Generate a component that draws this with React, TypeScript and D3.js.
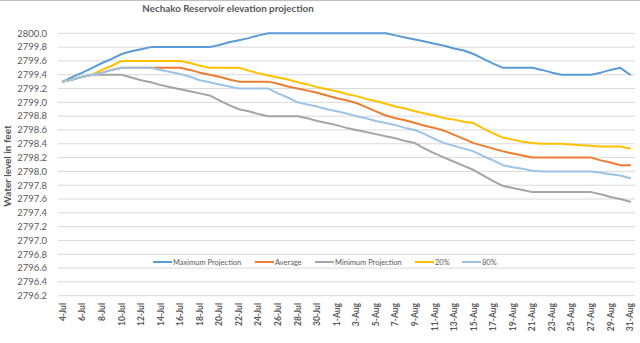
import React from "react";
import * as d3 from "d3";

const categories: string[] = [
  "4-Jul","5-Jul","6-Jul","7-Jul","8-Jul","9-Jul","10-Jul","11-Jul","12-Jul","13-Jul",
  "14-Jul","15-Jul","16-Jul","17-Jul","18-Jul","19-Jul","20-Jul","21-Jul","22-Jul","23-Jul",
  "24-Jul","25-Jul","26-Jul","27-Jul","28-Jul","29-Jul","30-Jul","31-Jul",
  "1-Aug","2-Aug","3-Aug","4-Aug","5-Aug","6-Aug","7-Aug","8-Aug","9-Aug","10-Aug",
  "11-Aug","12-Aug","13-Aug","14-Aug","15-Aug","16-Aug","17-Aug","18-Aug","19-Aug","20-Aug",
  "21-Aug","22-Aug","23-Aug","24-Aug","25-Aug","26-Aug","27-Aug","28-Aug","29-Aug","30-Aug","31-Aug",
];

const maxProjection: number[] = [
  2799.30, 2799.37, 2799.43, 2799.50, 2799.57, 2799.63, 2799.70, 2799.74, 2799.77, 2799.80,
  2799.80, 2799.80, 2799.80, 2799.80, 2799.80, 2799.80, 2799.83, 2799.87, 2799.90, 2799.93,
  2799.97, 2800.00, 2800.00, 2800.00, 2800.00, 2800.00, 2800.00, 2800.00,
  2800.00, 2800.00, 2800.00, 2800.00, 2800.00, 2800.00, 2799.97, 2799.94, 2799.91, 2799.88,
  2799.85, 2799.82, 2799.78, 2799.75, 2799.70, 2799.63, 2799.56, 2799.50, 2799.50, 2799.50,
  2799.50, 2799.47, 2799.43, 2799.40, 2799.40, 2799.40, 2799.40, 2799.43, 2799.47, 2799.50, 2799.40,
];

const average: number[] = [
  2799.30, 2799.33, 2799.37, 2799.40, 2799.43, 2799.47, 2799.50, 2799.50, 2799.50, 2799.50,
  2799.50, 2799.50, 2799.50, 2799.47, 2799.43, 2799.40, 2799.37, 2799.33, 2799.30, 2799.30,
  2799.30, 2799.30, 2799.27, 2799.23, 2799.20, 2799.17, 2799.14, 2799.10,
  2799.06, 2799.03, 2798.99, 2798.93, 2798.87, 2798.81, 2798.77, 2798.74, 2798.70, 2798.66,
  2798.63, 2798.59, 2798.53, 2798.47, 2798.41, 2798.37, 2798.33, 2798.29, 2798.26, 2798.23,
  2798.20, 2798.20, 2798.20, 2798.20, 2798.20, 2798.20, 2798.20, 2798.16, 2798.13, 2798.09, 2798.09,
];

const minProjection: number[] = [
  2799.30, 2799.33, 2799.37, 2799.40, 2799.40, 2799.40, 2799.40, 2799.36, 2799.32, 2799.29,
  2799.25, 2799.22, 2799.19, 2799.16, 2799.13, 2799.10, 2799.03, 2798.96, 2798.90, 2798.87,
  2798.83, 2798.80, 2798.80, 2798.80, 2798.80, 2798.77, 2798.73, 2798.70,
  2798.67, 2798.63, 2798.60, 2798.57, 2798.54, 2798.51, 2798.48, 2798.44, 2798.41, 2798.33,
  2798.26, 2798.20, 2798.14, 2798.08, 2798.02, 2797.94, 2797.86, 2797.79, 2797.76, 2797.73,
  2797.70, 2797.70, 2797.70, 2797.70, 2797.70, 2797.70, 2797.70, 2797.67, 2797.63, 2797.60, 2797.56,
];

const pct20: number[] = [
  2799.30, 2799.33, 2799.37, 2799.40, 2799.47, 2799.53, 2799.60, 2799.60, 2799.60, 2799.60,
  2799.60, 2799.60, 2799.60, 2799.57, 2799.53, 2799.50, 2799.50, 2799.50, 2799.50, 2799.46,
  2799.42, 2799.39, 2799.36, 2799.33, 2799.29, 2799.26, 2799.22, 2799.19,
  2799.16, 2799.12, 2799.09, 2799.05, 2799.02, 2798.98, 2798.94, 2798.91, 2798.87, 2798.84,
  2798.81, 2798.77, 2798.75, 2798.72, 2798.70, 2798.62, 2798.55, 2798.49, 2798.46, 2798.43,
  2798.41, 2798.40, 2798.40, 2798.40, 2798.39, 2798.38, 2798.37, 2798.36, 2798.36, 2798.36, 2798.33,
];

const pct80: number[] = [
  2799.30, 2799.33, 2799.37, 2799.40, 2799.43, 2799.47, 2799.50, 2799.50, 2799.50, 2799.50,
  2799.47, 2799.44, 2799.41, 2799.37, 2799.32, 2799.29, 2799.26, 2799.23, 2799.20, 2799.20,
  2799.20, 2799.20, 2799.13, 2799.07, 2799.00, 2798.97, 2798.94, 2798.90,
  2798.87, 2798.84, 2798.80, 2798.77, 2798.73, 2798.70, 2798.67, 2798.63, 2798.60, 2798.54,
  2798.47, 2798.41, 2798.37, 2798.33, 2798.29, 2798.22, 2798.16, 2798.09, 2798.06, 2798.04,
  2798.01, 2798.00, 2798.00, 2798.00, 2798.00, 2798.00, 2798.00, 2797.98, 2797.96, 2797.94, 2797.90,
];

const yTicks: number[] = [
  2796.2, 2796.4, 2796.6, 2796.8, 2797.0, 2797.2, 2797.4, 2797.6, 2797.8, 2798.0,
  2798.2, 2798.4, 2798.6, 2798.8, 2799.0, 2799.2, 2799.4, 2799.6, 2799.8, 2800.0,
];

const seriesNames: string[] = ["Maximum Projection", "Average", "Minimum Projection", "20%", "80%"];
const seriesColors: string[] = ["#5B9BD5", "#ED7D31", "#A5A5A5", "#FFC000", "#9DC3E6"];
const seriesData: number[][] = [maxProjection, average, minProjection, pct20, pct80];

const W = 640;
const H = 343;
const FONT = "Lato, 'Open Sans', sans-serif";

export default function App() {
  const x = d3.scalePoint<string>().domain(categories).range([58, 635]).padding(0.5);
  const y = d3.scaleLinear().domain([2796.2, 2800.0]).range([295.7, 33.3]);
  const line = d3
    .line<number>()
    .x((_, i) => x(categories[i]) as number)
    .y((v) => y(v));

  const legendX = [153, 255, 315, 415, 462];
  const legendY = 262;

  return (
    <svg
      width={W}
      height={H}
      style={{ position: "absolute", left: 0, top: 0, background: "#fff" }}
      fontFamily={FONT}
    >
      <rect x={0} y={0} width={W} height={H} fill="#fff" />
      <line x1={0} x2={W} y1={0.5} y2={0.5} stroke="#BFBFBF" strokeWidth={1} />
      <text x={228} y={12} textAnchor="middle" fontSize={9.8} fontWeight="bold" fill="#595959">
        Nechako Reservoir elevation projection
      </text>
      {yTicks.map((t) => (
        <g key={t}>
          <line x1={58} x2={635} y1={y(t)} y2={y(t)} stroke="#D9D9D9" strokeWidth={1} />
          <text x={47} y={y(t)} dy="0.35em" textAnchor="end" fontSize={9.5} fill="#595959">
            {t.toFixed(1)}
          </text>
        </g>
      ))}
      {categories.map((c, i) =>
        i % 2 === 0 ? (
          <text
            key={c}
            transform={`translate(${x(c)},303) rotate(-90)`}
            dy="0.35em"
            textAnchor="end"
            fontSize={8.5}
            fontWeight="bold"
            fill="#595959"
          >
            {c}
          </text>
        ) : null
      )}
      <text
        transform="translate(7,166) rotate(-90)"
        textAnchor="middle"
        dy="0.35em"
        fontSize={10}
        fontWeight="bold"
        fill="#595959"
      >
        Water level in feet
      </text>
      {seriesData.map((d, k) => (
        <path
          key={seriesNames[k]}
          d={line(d) || ""}
          fill="none"
          stroke={seriesColors[k]}
          strokeWidth={2}
          strokeLinejoin="round"
          strokeLinecap="round"
        />
      ))}
      {seriesNames.map((n, k) => (
        <g key={n}>
          <line
            x1={legendX[k]}
            x2={legendX[k] + 19}
            y1={legendY}
            y2={legendY}
            stroke={seriesColors[k]}
            strokeWidth={2}
          />
          <text x={legendX[k] + 20} y={legendY} dy="0.35em" fontSize={7.5} fill="#595959">
            {n}
          </text>
        </g>
      ))}
    </svg>
  );
}
